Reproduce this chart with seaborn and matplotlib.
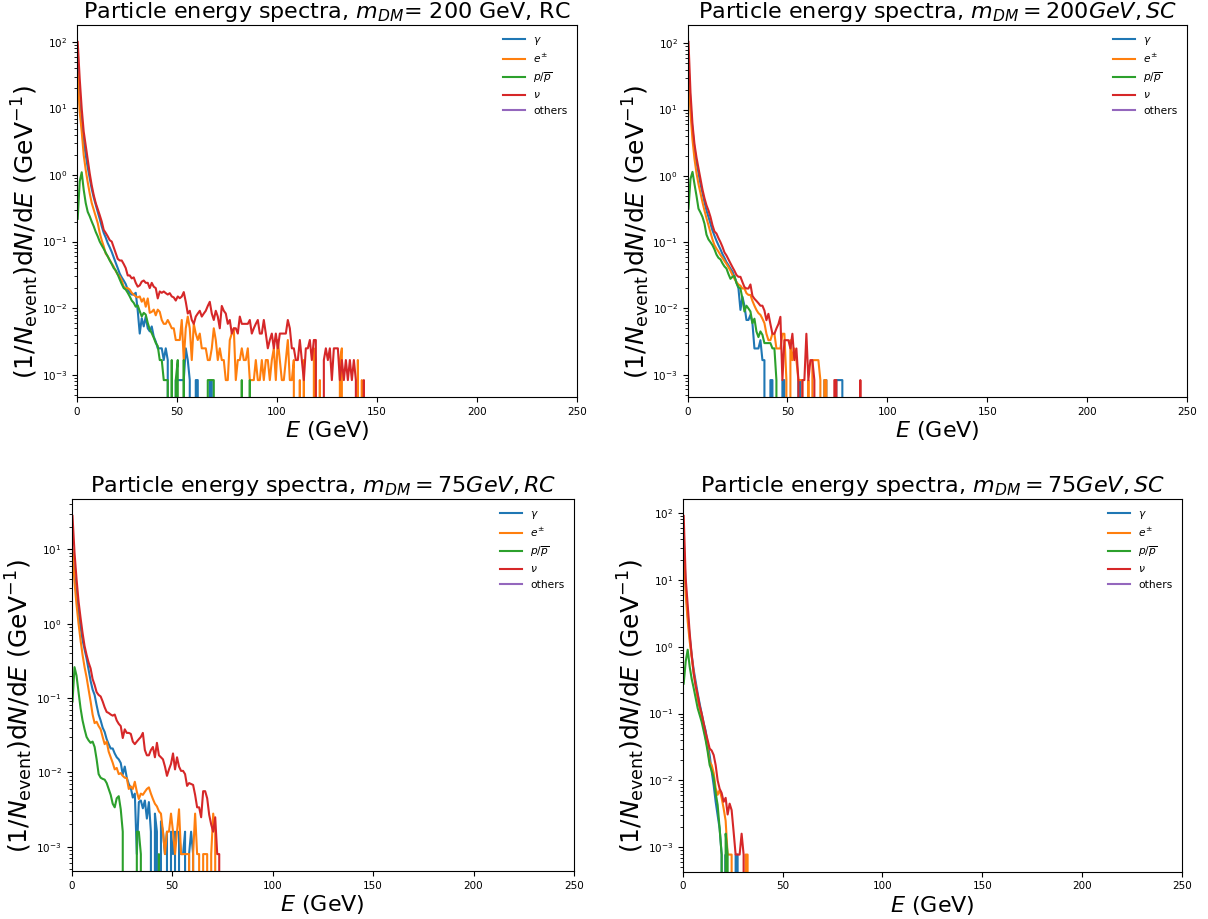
import numpy as np
import matplotlib
matplotlib.use("Agg")
import matplotlib.pyplot as plt
import seaborn as sns

# ---------------- data (dN/dE per 1-GeV bin) ----------------
# Panel 1: m_DM = 200 GeV, RC   (tails given in units of one event, UNIT_200RC)
UNIT_200RC = 8.3e-4
nu_200rc_head = [100, 28, 10, 4.5, 2.8, 1.7, 1.06, 0.7, 0.5, 0.38,
                 0.31, 0.25, 0.2, 0.15, 0.135, 0.12, 0.105, 0.1, 0.082, 0.068,
                 0.055, 0.052, 0.052, 0.046, 0.04, 0.031, 0.031, 0.028, 0.029, 0.024,
                 0.021, 0.022, 0.025, 0.026, 0.024, 0.024, 0.02, 0.024, 0.021, 0.02,
                 0.014, 0.0178, 0.017, 0.0178, 0.0168, 0.016, 0.0168, 0.015, 0.0145, 0.013,
                 0.015]
nu_200rc_tail = [17, 18, 21, 15, 10, 11, 8, 7, 9,
                 10, 11, 9, 10, 11, 13, 15, 10, 8, 11,
                 9, 6, 13, 11, 10, 7, 8, 5, 6, 6,
                 5, 9, 7, 7, 7, 7, 8, 5, 6, 7,
                 8, 5, 5, 8, 5, 3, 4, 5, 3, 5,
                 3, 5, 5, 5, 5, 8, 6, 3, 3, 2,
                 2, 4, 2, 1, 3, 3, 4, 2, 4, 4,
                 0, 0, 0, 2, 3, 2, 3, 1, 3, 3,
                 3, 1, 2, 1, 2, 1, 2, 1, 2, 1,
                 0, 0, 0, 1, 0]
e_200rc_head = [35, 9, 4.5, 2.0, 1.2, 0.78, 0.53, 0.38, 0.3, 0.24,
                0.19, 0.135, 0.105, 0.085, 0.066, 0.06, 0.053, 0.047, 0.042, 0.036,
                0.032, 0.03, 0.026, 0.021, 0.02, 0.02, 0.019, 0.017, 0.016, 0.015,
                0.0145, 0.015, 0.0125, 0.014, 0.0105, 0.014, 0.0085, 0.0088, 0.0095, 0.0078,
                0.0095, 0.0088]
e_200rc_tail = [8, 7, 7, 8, 7, 6, 6, 4,
                4, 4, 8, 2, 6, 9, 6, 2, 7, 5,
                4, 5, 3, 3, 3, 2, 2, 3, 6, 4,
                2, 3, 2, 2, 1, 1, 4, 5, 6, 1,
                2, 2, 3, 2, 2, 3, 1, 1, 1, 2,
                1, 1, 2, 1, 2, 2, 1, 2, 3, 1,
                4, 2, 1, 1, 2, 4, 1, 1, 2, 0,
                0, 1, 0, 2, 0, 0, 0, 0, 3, 2,
                0, 1, 0, 0, 0, 0, 0, 0, 0, 0,
                0, 2, 3, 0, 0, 0, 0, 0, 0, 0,
                2, 0, 1, 0]
p_200rc_head = [0.22, 0.8, 1.1, 0.6, 0.38, 0.28, 0.24, 0.2, 0.17, 0.14,
                0.12, 0.1, 0.088, 0.078, 0.068, 0.06, 0.052, 0.046, 0.04, 0.037,
                0.032, 0.027, 0.023, 0.02, 0.019, 0.017, 0.015, 0.013, 0.012, 0.0105,
                0.011, 0.009, 0.0075, 0.0085, 0.008, 0.006, 0.0048, 0.0042, 0.0036, 0.003,
                0.0027]
p_200rc_tail = [2, 2, 1, 1, 1, 0, 2, 0, 1,
                2, 0, 0, 2, 0, 0, 0, 0, 0, 0,
                0, 0, 0, 0, 0, 1, 1, 1, 1, 0,
                0, 0, 0, 0, 0, 0, 0, 0, 0, 0,
                0, 0, 1, 0, 0, 0, 1, 0]
g_200rc_head = [40, 12, 6, 3.2, 2.0, 1.3, 0.9, 0.62, 0.46, 0.36,
                0.28, 0.22, 0.17, 0.135, 0.115, 0.095, 0.082, 0.07, 0.058, 0.048,
                0.04, 0.033, 0.029, 0.026, 0.023, 0.019, 0.017, 0.016, 0.016, 0.017]
g_200rc_tail = [11, 5, 8.5, 6.4, 9, 6, 5.4, 6.4, 4.5, 3.8,
                3, 3, 3, 2, 3, 2, 0, 0, 0, 1,
                1, 1, 1, 1, 3, 2, 1, 0, 0, 1,
                1, 0, 0, 0, 0, 0, 1, 1, 0]

# Panel 2: m_DM = 200 GeV, SC
UNIT_200SC = 8.3e-4
nu_200sc_head = [105, 18, 6, 3, 1.9, 1.3, 0.9, 0.62, 0.46, 0.36,
                 0.3, 0.24, 0.18, 0.145, 0.135, 0.115, 0.1, 0.085, 0.07, 0.063,
                 0.055, 0.048, 0.042, 0.037, 0.032, 0.03, 0.03, 0.025, 0.021, 0.02,
                 0.02, 0.023, 0.0155, 0.014, 0.013, 0.012, 0.011, 0.011, 0.0093]
nu_200sc_tail = [8, 10, 7, 5, 5, 6, 7, 9, 1, 4,
                 4, 4, 3, 5, 2, 3, 1, 0, 1, 1,
                 5, 1, 2, 2, 1, 0, 0, 0, 0, 0,
                 0, 0, 0, 0, 1, 1, 0, 0, 0, 0,
                 0, 0, 0, 0, 0, 0, 0, 1, 0]
e_200sc_head = [44, 9, 3.5, 1.8, 1.1, 0.75, 0.55, 0.4, 0.3, 0.23,
                0.18, 0.14, 0.11, 0.09, 0.08, 0.072, 0.064, 0.058, 0.052, 0.047,
                0.042, 0.037, 0.032, 0.028, 0.025, 0.023, 0.022, 0.02, 0.02, 0.017,
                0.016, 0.016, 0.013, 0.011, 0.0095, 0.0085, 0.008, 0.007, 0.006]
e_200sc_tail = [5, 4, 4, 5, 5, 3, 3, 3, 5, 5,
                1, 0, 4, 2, 3, 2, 1, 1, 1, 0,
                0, 1, 0, 2, 2, 2, 2, 1, 0, 1,
                1, 0]
p_200sc_head = [0.32, 0.9, 1.15, 0.75, 0.5, 0.32, 0.28, 0.24, 0.19, 0.13,
                0.11, 0.1, 0.09, 0.078, 0.065, 0.058, 0.055, 0.048, 0.043, 0.04,
                0.033, 0.028, 0.03, 0.031, 0.024, 0.021, 0.02, 0.014, 0.009, 0.011,
                0.01, 0.009, 0.006, 0.007, 0.0045, 0.0037, 0.0045, 0.004, 0.003, 0.003,
                0.003, 0.003, 0.0025, 0.0025]
p_200sc_tail = [1, 0]
g_200sc_head = [50, 12, 5, 2.6, 1.6, 1.1, 0.75, 0.55, 0.4, 0.3,
                0.24, 0.19, 0.15, 0.125, 0.105, 0.09, 0.078, 0.066, 0.058, 0.05,
                0.045, 0.04, 0.036, 0.03, 0.025, 0.02, 0.0095, 0.015, 0.011, 0.0067,
                0.0067, 0.008, 0.006]
g_200sc_tail = [3, 3, 3, 4, 2, 2, 0, 0, 1, 1,
                0, 0, 0, 0, 1, 1, 0, 0, 0, 0,
                0, 0, 1, 1, 0, 0, 0, 0, 0, 0,
                0, 0, 0, 0, 0, 1, 1, 0, 0, 0,
                0, 1, 1, 1, 1, 0]

# Panel 3: m_DM = 75 GeV, RC
nu_75rc = [28, 9, 4, 2, 1.2, 0.75, 0.5, 0.38, 0.3, 0.25,
           0.18, 0.15, 0.12, 0.11, 0.105, 0.09, 0.075, 0.065, 0.063, 0.06,
           0.058, 0.06, 0.05, 0.045, 0.042, 0.029, 0.038, 0.034, 0.034, 0.033,
           0.026, 0.024, 0.026, 0.028, 0.03, 0.034, 0.02, 0.017, 0.017, 0.02,
           0.022, 0.016, 0.025, 0.017, 0.016, 0.015, 0.012, 0.009, 0.011, 0.013,
           0.018, 0.011, 0.016, 0.012, 0.0105, 0.0105, 0.0095, 0.0066, 0.0072, 0.007,
           0.0068, 0.005, 0.0034, 0.0034, 0.0025, 0.0056, 0.0056, 0.0045, 0.0027, 0.002,
           0.0016, 0.0025, 0.0008, 0.0008, 0]
e_75rc = [10, 3.6, 1.8, 1.0, 0.6, 0.38, 0.26, 0.19, 0.13, 0.09,
          0.06, 0.046, 0.048, 0.042, 0.038, 0.03, 0.024, 0.026, 0.019, 0.016,
          0.0135, 0.011, 0.0115, 0.0095, 0.0098, 0.009, 0.0085, 0.0084, 0.006, 0.0065,
          0.006, 0.0075, 0.0055, 0.0044, 0.0052, 0.005, 0.0055, 0.006, 0.0063, 0.0052,
          0.0044, 0.0038, 0.0035, 0.003, 0.0028, 0.0016, 0.0008, 0.0016, 0.0016, 0.0028,
          0.0016, 0.0008, 0.0016, 0.0032, 0.0008, 0.0008, 0.0008, 0.0008, 0.0008, 0,
          0.0008, 0.0028, 0.0008, 0.0008, 0, 0.0008, 0.0008, 0.0008, 0, 0.0008,
          0.0028, 0.0016, 0]
p_75rc = [0.09, 0.26, 0.2, 0.12, 0.073, 0.05, 0.038, 0.03, 0.027, 0.025,
          0.026, 0.022, 0.015, 0.0095, 0.0085, 0.0082, 0.008, 0.0072, 0.006, 0.005,
          0.0038, 0.0034, 0.0045, 0.0048, 0.0032, 0.0016, 0, 0, 0, 0,
          0, 0, 0.0016, 0.0016, 0.0008, 0, 0, 0, 0, 0,
          0, 0, 0, 0.0008, 0]
g_75rc = [9, 4.5, 2.4, 1.4, 0.9, 0.6, 0.45, 0.34, 0.24, 0.17,
          0.13, 0.11, 0.08, 0.06, 0.05, 0.04, 0.035, 0.028, 0.024, 0.021,
          0.021, 0.018, 0.016, 0.015, 0.0134, 0.0094, 0.012, 0.0085, 0.007, 0.0062,
          0.0046, 0.0052, 0.0008, 0.004, 0.0042, 0.0033, 0.0042, 0.0024, 0.004, 0.0016,
          0, 0.0028, 0.0016, 0, 0.0022, 0.0016, 0.0008, 0.0016, 0, 0.0016,
          0.0008, 0.0016, 0, 0.0016, 0.0008, 0.0008, 0.0016, 0, 0.0008, 0.0016,
          0.0008, 0]

# Panel 4: m_DM = 75 GeV, SC
nu_75sc = [90, 10.5, 4.2, 1.6, 0.75, 0.4, 0.26, 0.19, 0.13, 0.1,
           0.072, 0.052, 0.04, 0.03, 0.028, 0.024, 0.017, 0.01, 0.0075, 0.0065,
           0.0048, 0.0055, 0.0031, 0.0045, 0.0036, 0.0017, 0.00078, 0.00078, 0.00078, 0.0016,
           0.00078, 0]
e_75sc = [33, 6, 2.4, 1.2, 0.7, 0.4, 0.26, 0.16, 0.12, 0.09,
          0.065, 0.042, 0.03, 0.019, 0.017, 0.013, 0.0077, 0.0061, 0.0072, 0.0055,
          0.0038, 0.0025, 0.00078, 0.00078, 0.00078, 0, 0, 0, 0, 0,
          0, 0.00078, 0.00078, 0]
p_75sc = [0.28, 0.6, 0.9, 0.5, 0.33, 0.24, 0.17, 0.12, 0.095, 0.075,
          0.055, 0.04, 0.027, 0.017, 0.014, 0.011, 0.0065, 0.0043, 0.0019, 0.00078,
          0, 0.0016, 0.00078, 0]
g_75sc = [40, 8, 3, 1.4, 0.75, 0.45, 0.3, 0.2, 0.14, 0.1,
          0.072, 0.055, 0.035, 0.024, 0.0137, 0.0085, 0.0048, 0.003, 0.0019, 0.00078,
          0, 0.00078, 0, 0, 0, 0, 0.00078, 0.00078, 0]

SERIES_LABELS = [r'$\gamma$', r'$e^{\pm}$', r'$p/\overline{p}$', r'$\nu$', 'others']
TITLES = [r'Particle energy spectra, $m_{DM}$= 200 GeV, RC',
          r'Particle energy spectra, $m_{DM} = 200 GeV, SC$',
          r'Particle energy spectra, $m_{DM} = 75 GeV, RC$',
          r'Particle energy spectra, $m_{DM} = 75 GeV, SC$']
X_TICKS = [0, 50, 100, 150, 200, 250]


def join(head, tail, unit):
    return list(head) + [k * unit for k in tail]


panels = [
    [join(g_200rc_head, g_200rc_tail, UNIT_200RC), join(e_200rc_head, e_200rc_tail, UNIT_200RC),
     join(p_200rc_head, p_200rc_tail, UNIT_200RC), join(nu_200rc_head, nu_200rc_tail, UNIT_200RC)],
    [join(g_200sc_head, g_200sc_tail, UNIT_200SC), join(e_200sc_head, e_200sc_tail, UNIT_200SC),
     join(p_200sc_head, p_200sc_tail, UNIT_200SC), join(nu_200sc_head, nu_200sc_tail, UNIT_200SC)],
    [g_75rc, e_75rc, p_75rc, nu_75rc],
    [g_75sc, e_75sc, p_75sc, nu_75sc],
]

# ---------------- figure ----------------
W, H = 1208, 919
fig = plt.figure(figsize=(W / 100, H / 100), dpi=100)
boxes = [  # left, right, top, bottom in pixels
    (76.7, 577, 25, 397),
    (687.5, 1187, 25, 397),
    (71.5, 574, 499, 871),
    (682.7, 1182, 499, 871.5),
]
colors = sns.color_palette('tab10')

for (l, r, t, b), series, title in zip(boxes, panels, TITLES):
    ax = fig.add_axes([l / W, 1 - b / H, (r - l) / W, (b - t) / H])
    for vals, lab, col in zip(series, SERIES_LABELS[:4], colors[:4]):
        energy = np.arange(len(vals)) + 0.5
        sns.lineplot(x=energy, y=np.asarray(vals, dtype=float), ax=ax, color=col,
                     label=lab, linewidth=1.5, estimator=None, sort=False, errorbar=None)
    ax.plot([], [], color=colors[4], label=SERIES_LABELS[4], linewidth=1.5)
    ax.set_yscale('log')
    ax.set_xlim(0, 250)
    ax.set_xticks(X_TICKS)
    ax.tick_params(labelsize=7.5)
    ax.set_title(title, fontsize=16, pad=5)
    ax.set_xlabel(r'$E$ (GeV)', fontsize=16, labelpad=2)
    ax.set_ylabel(r'$(1/N_{\mathrm{event}})\mathrm{d}N/\mathrm{d}E$ (GeV$^{-1}$)', fontsize=18)
    ax.yaxis.set_label_coords(-0.072, 0.443)
    ax.legend(loc='upper right', frameon=False, fontsize=7.7)

fig.savefig('out.png', dpi=100)
